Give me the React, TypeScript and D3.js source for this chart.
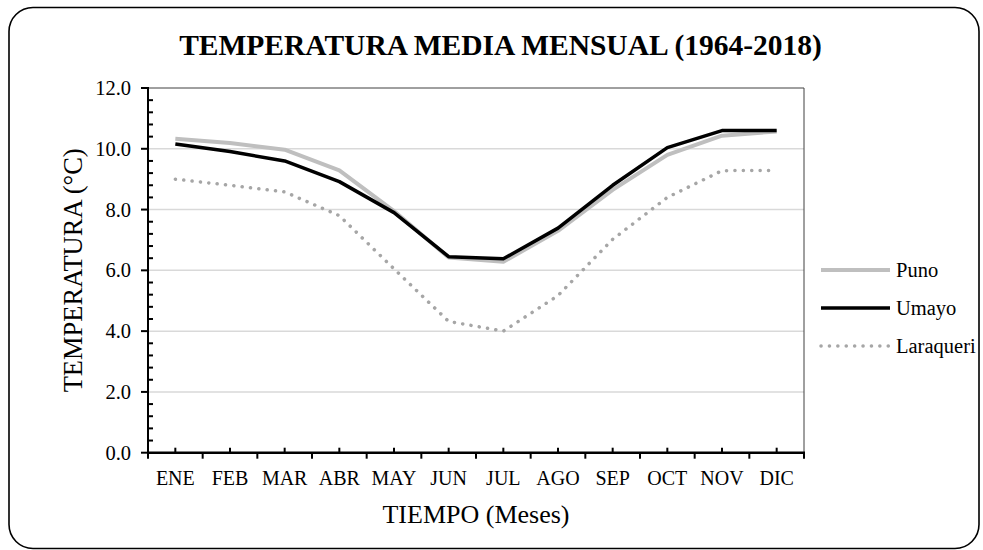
import React from "react";
import * as d3 from "d3";

const months = ["ENE", "FEB", "MAR", "ABR", "MAY", "JUN", "JUL", "AGO", "SEP", "OCT", "NOV", "DIC"];
const puno = [10.33, 10.19, 9.97, 9.29, 7.95, 6.42, 6.28, 7.3, 8.65, 9.8, 10.43, 10.57];
const umayo = [10.16, 9.91, 9.6, 8.92, 7.9, 6.45, 6.38, 7.39, 8.8, 10.04, 10.6, 10.6];
const laraqueri = [9.0, 8.8, 8.58, 7.8, 6.05, 4.32, 4.0, 5.17, 7.02, 8.4, 9.28, 9.29];
const yTicks = [0, 2, 4, 6, 8, 10, 12];
const seriesNames = ["Puno", "Umayo", "Laraqueri"];

const W = 983;
const H = 550;
const FONT = "'Liberation Serif', 'Times New Roman', serif";

export default function App() {
  const left = 148, right = 804, top = 88, bottom = 452.7;
  const x = d3.scaleBand<string>().domain(months).range([left, right]);
  const y = d3.scaleLinear().domain([0, 12]).range([bottom, top]);
  const cx = (m: string) => (x(m) as number) + x.bandwidth() / 2;
  const line = d3
    .line<number>()
    .x((_, i) => cx(months[i]))
    .y((d) => y(d));

  const minorY = d3.range(0, 12.0001, 0.4).filter((v) => Math.abs(v / 2 - Math.round(v / 2)) > 1e-6);
  const boundaries = months.map((m) => x(m) as number).concat([right]);

  const styles = [
    { stroke: "#bfbfbf", width: 4, dash: undefined as string | undefined, cap: "butt" },
    { stroke: "#000000", width: 3.5, dash: undefined as string | undefined, cap: "butt" },
    { stroke: "#a6a6a6", width: 3.5, dash: "0.1 8.3", cap: "round" },
  ];
  const data = [puno, umayo, laraqueri];
  const legendY = [270, 308, 346];

  return (
    <svg width={W} height={H} style={{ position: "absolute", left: 0, top: 0, display: "block", background: "#fff" }}>
      <rect x={9} y={7.5} width={970} height={541} rx={24} ry={24} fill="#fff" stroke="#000" strokeWidth={1.6} />
      <text x={500.5} y={55} textAnchor="middle" fontFamily={FONT} fontWeight="bold" fontSize={29.5}>
        TEMPERATURA MEDIA MENSUAL (1964-2018)
      </text>

      {/* gridlines */}
      {yTicks.filter((t) => t > 0 && t < 12).map((t) => (
        <line key={"g" + t} x1={left} x2={right} y1={y(t)} y2={y(t)} stroke="#d9d9d9" strokeWidth={1.5} />
      ))}
      {/* plot border top / right */}
      <line x1={left} x2={right} y1={top} y2={top} stroke="#404040" strokeWidth={1} />
      <line x1={right} x2={right} y1={top} y2={bottom} stroke="#404040" strokeWidth={1} />

      {/* series */}
      {data.map((d, i) => (
        <path
          key={"s" + i}
          d={line(d) as string}
          fill="none"
          stroke={styles[i].stroke}
          strokeWidth={styles[i].width}
          strokeDasharray={styles[i].dash}
          strokeLinecap={styles[i].cap as any}
          strokeLinejoin="round"
        />
      ))}

      {/* y axis */}
      <line x1={left} x2={left} y1={top - 1} y2={bottom + 1} stroke="#000" strokeWidth={2} />
      {yTicks.map((t) => (
        <g key={"yt" + t}>
          <line x1={left - 7} x2={left} y1={y(t)} y2={y(t)} stroke="#000" strokeWidth={2} />
          <text x={131} y={y(t) + 7} textAnchor="end" fontFamily={FONT} fontSize={20.5}>
            {t.toFixed(1)}
          </text>
        </g>
      ))}
      {minorY.map((t) => (
        <line key={"ym" + t} x1={left} x2={left + 5} y1={y(t)} y2={y(t)} stroke="#000" strokeWidth={2} />
      ))}

      {/* x axis */}
      <line x1={left - 1} x2={right + 1} y1={bottom} y2={bottom} stroke="#000" strokeWidth={2.5} />
      {boundaries.map((b, i) => (
        <line key={"xb" + i} x1={b} x2={b} y1={bottom} y2={bottom + 6} stroke="#000" strokeWidth={2} />
      ))}
      {months.map((m) => (
        <g key={"xm" + m}>
          <line x1={cx(m)} x2={cx(m)} y1={bottom - 5} y2={bottom} stroke="#000" strokeWidth={2} />
          <text x={cx(m)} y={485} textAnchor="middle" fontFamily={FONT} fontSize={20}>
            {m}
          </text>
        </g>
      ))}

      {/* axis titles */}
      <text x={(left + right) / 2} y={523} textAnchor="middle" fontFamily={FONT} fontSize={26}>
        TIEMPO (Meses)
      </text>
      <text
        transform={`translate(82, ${(top + bottom) / 2}) rotate(-90)`}
        textAnchor="middle"
        fontFamily={FONT}
        fontSize={26.5}
      >
        TEMPERATURA (°C)
      </text>

      {/* legend */}
      {seriesNames.map((n, i) => (
        <g key={"l" + n}>
          <line
            x1={821}
            x2={890}
            y1={legendY[i]}
            y2={legendY[i]}
            stroke={styles[i].stroke}
            strokeWidth={styles[i].width}
            strokeDasharray={styles[i].dash}
            strokeLinecap={styles[i].cap as any}
          />
          <text x={896} y={legendY[i] + 7} fontFamily={FONT} fontSize={20.5}>
            {n}
          </text>
        </g>
      ))}
    </svg>
  );
}
